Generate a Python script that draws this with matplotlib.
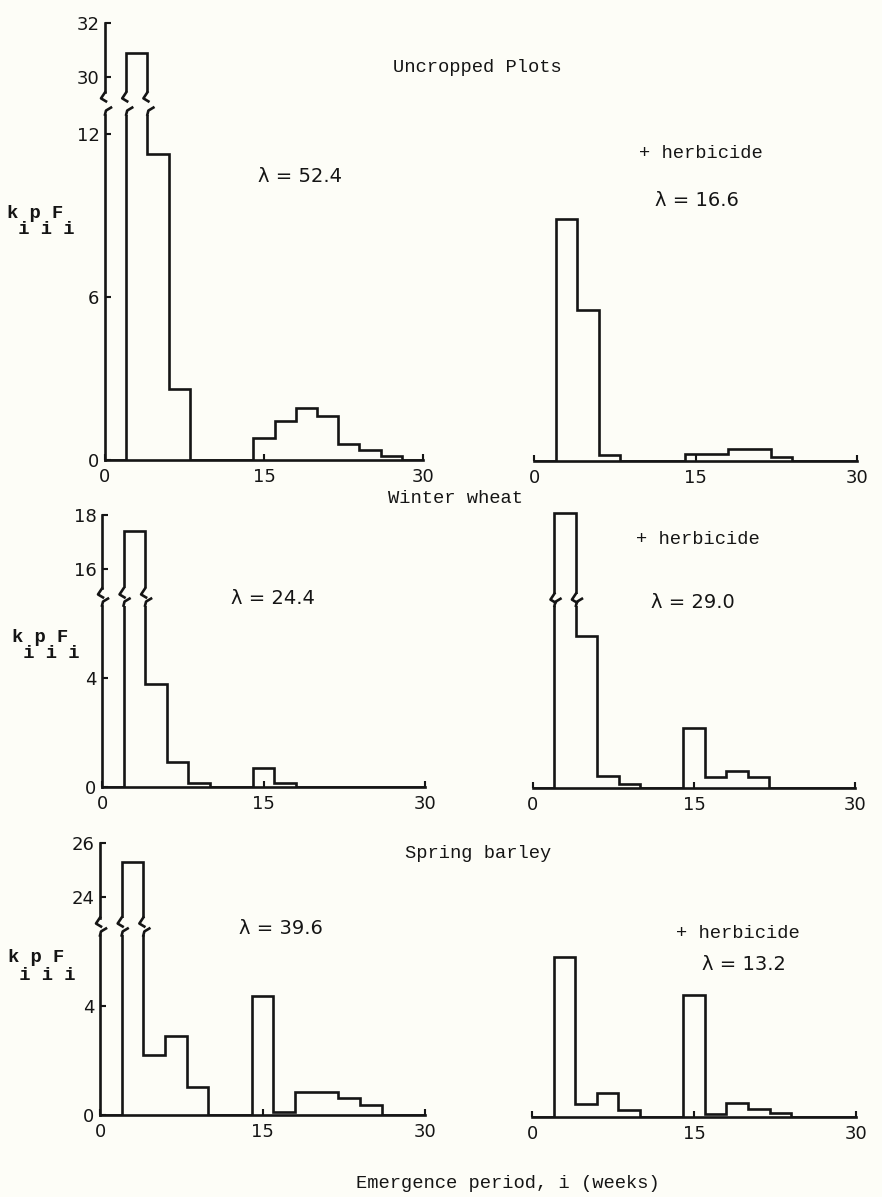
import numpy as np
import matplotlib.pyplot as plt
import matplotlib.transforms as mtransforms

# emergence period bins of 2 weeks, 0-30
edges = np.arange(0, 32, 2)

uncropped      = [0, 30.9, 11.25, 2.6, 0, 0, 0, 0.8, 1.45, 1.9, 1.6, 0.6, 0.37, 0.15, 0]
uncropped_herb = [0, 8.9, 5.55, 0.22, 0, 0, 0, 0.26, 0.26, 0.44, 0.44, 0.15, 0, 0, 0]
wheat          = [0, 17.4, 3.8, 0.93, 0.15, 0, 0, 0.7, 0.15, 0, 0, 0, 0, 0, 0]
wheat_herb     = [0, 18.05, 5.6, 0.44, 0.13, 0, 0, 2.2, 0.4, 0.63, 0.4, 0, 0, 0, 0]
barley         = [0, 25.3, 2.2, 2.9, 1.04, 0, 0, 4.37, 0.12, 0.84, 0.84, 0.62, 0.37, 0, 0]
barley_herb    = [0, 5.9, 0.48, 0.87, 0.26, 0, 0, 4.5, 0.1, 0.5, 0.3, 0.15, 0, 0, 0]

x_ticks = [0, 15, 30]
lambdas = ['52.4', '16.6', '24.4', '29.0', '39.6', '13.2']

W, H = 882, 1197
INK = '#151515'
BG = '#fdfdf7'
PPU = 27.2      # pixels per unit on the y scale
LW = 1.9
MONO = 'Liberation Mono'

fig = plt.figure(figsize=(W / 100, H / 100), dpi=100, facecolor=BG)


def px_axes(x0, x1, ytop, ybot):
    ax = fig.add_axes([x0 / W, 1 - ybot / H, (x1 - x0) / W, (ybot - ytop) / H])
    ax.set_facecolor('none')
    for s in ax.spines.values():
        s.set_visible(False)
        s.set_linewidth(LW)
        s.set_color(INK)
    ax.tick_params(colors=INK, direction='in', width=LW * 0.8, length=4,
                   labelsize=13, pad=4)
    return ax


def squiggle(ax, x, y, pts):
    tr = fig.dpi_scale_trans + mtransforms.ScaledTranslation(x, y, ax.transData)
    p = np.array(pts) / 100.0
    ax.plot(p[:, 0], p[:, 1], transform=tr, clip_on=False, color=INK, lw=LW,
            solid_joinstyle='round')


def panel(values, x0, x1, base, lower_max, upper=None, yaxis=False,
          lower_ticks=(), upper_ticks=()):
    low = px_axes(x0, x1, base - lower_max * PPU, base)
    low.stairs(values, edges, baseline=0, fill=False, color=INK, lw=LW)
    low.spines['bottom'].set_visible(True)
    low.set_xticks(x_ticks)
    low.tick_params(axis='x', pad=6)
    if yaxis:
        low.spines['left'].set_visible(True)
        low.set_yticks(lower_ticks)
    else:
        low.set_yticks([])
    breaks = []
    if upper is not None:
        umin, umax, utop = upper
        up = px_axes(x0, x1, utop, utop + (umax - umin) * PPU)
        up.stairs(values, edges, baseline=0, fill=False, color=INK, lw=LW)
        up.set_xticks([])
        if yaxis:
            up.spines['left'].set_visible(True)
            up.set_yticks(upper_ticks)
            breaks.append(0)
        else:
            up.set_yticks([])
        v = [0] + list(values) + [0]
        for i, e in enumerate(edges):
            a, b = v[i], v[i + 1]
            if min(a, b) < lower_max and max(a, b) > umin and e not in breaks:
                breaks.append(e)
        for e in breaks:
            squiggle(up, e, umin, [(0, 0), (-4, -6), (1, -9)])
            squiggle(low, e, lower_max, [(0, 0), (1, 4), (6, 7)])
        up.set_xlim(0, 30)
        up.set_ylim(umin, umax)
    low.set_xlim(0, 30)
    low.set_ylim(0, lower_max)
    return low


# Uncropped plots
panel(uncropped, 105, 423, 460, 12.7, upper=(29.45, 32, 23), yaxis=True,
      lower_ticks=[0, 6, 12], upper_ticks=[30, 32])
panel(uncropped_herb, 534, 857, 461, 9.3)
# Winter wheat
panel(wheat, 102, 425, 787, 6.67, upper=(15.3, 18, 515), yaxis=True,
      lower_ticks=[0, 4], upper_ticks=[16, 18])
panel(wheat_herb, 533, 855, 788, 6.7, upper=(15.1, 18.1, 512))
# Spring barley
panel(barley, 100, 425, 1115, 6.6, upper=(23.26, 26, 843), yaxis=True,
      lower_ticks=[0, 4], upper_ticks=[24, 26])
panel(barley_herb, 532, 856, 1117, 6.2)


def T(x, y, s, **kw):
    kw.setdefault('ha', 'center')
    kw.setdefault('va', 'center')
    kw.setdefault('color', INK)
    fig.text(x / W, 1 - y / H, s, **kw)


for x, y, s in [(477, 68, 'Uncropped Plots'), (701, 154, '+ herbicide'),
                (455, 499, 'Winter wheat'), (698, 540, '+ herbicide'),
                (478, 853, 'Spring barley'), (738, 934, '+ herbicide'),
                (508, 1183, 'Emergence period, i (weeks)')]:
    T(x, y, s, family=MONO, fontsize=13.5)

for (x, y), lam in zip([(300, 177), (697, 201), (273, 598), (693, 602),
                        (281, 929), (744, 965)], lambdas):
    T(x, y, '\u03bb = ' + lam, family='DejaVu Sans', fontsize=14)

for x, y in [(7, 213), (12, 637), (8, 958)]:
    T(x, y, 'k p F', family=MONO, fontsize=13.5, ha='left', fontweight='bold')
    T(x, y + 17, ' i i i', family=MONO, fontsize=13.5, ha='left', fontweight='bold')

fig.savefig('out.png', dpi=100, facecolor=BG)
